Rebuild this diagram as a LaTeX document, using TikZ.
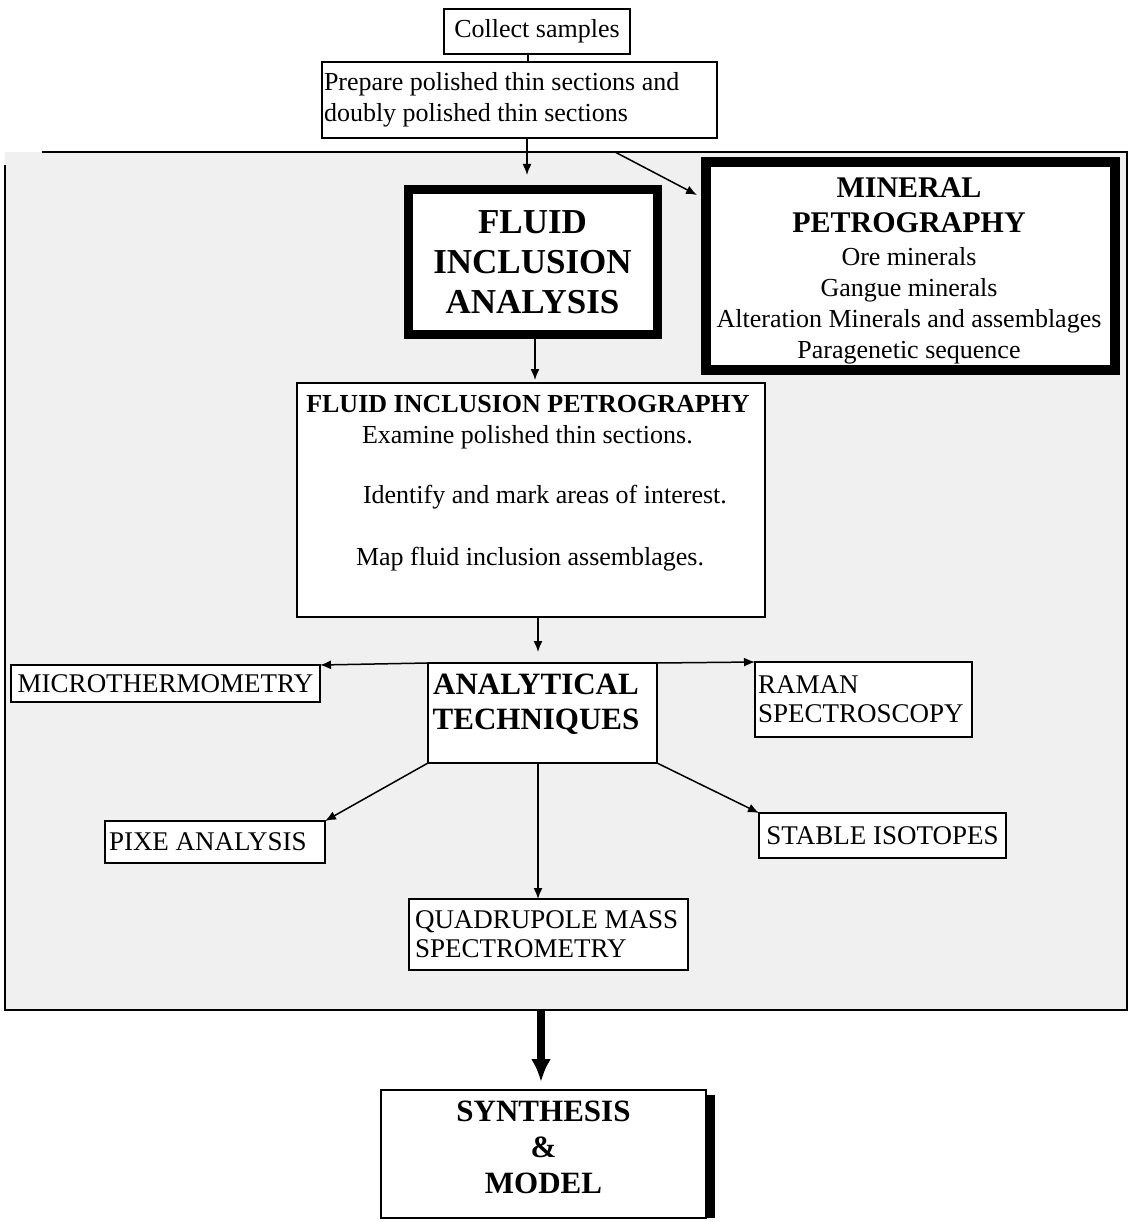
\documentclass[tikz,border=0pt]{standalone}
\usepackage{fontspec}
\setmainfont{Liberation Serif}
\usetikzlibrary{arrows.meta}
\newcommand\rgf{\fontsize{26}{31}\selectfont}
\newcommand\capf{\fontsize{27}{29}\selectfont}
\newcommand\bdf{\fontsize{26}{31}\selectfont\bfseries}
\newcommand\ttlf{\fontsize{30}{34}\selectfont\bfseries}
\begin{document}
\begin{tikzpicture}[x=1pt,y=-1pt,
  box/.style={draw, line width=2pt, fill=white, inner sep=0pt, outer sep=0pt, font=\rgf},
  thickbox/.style={draw, fill=white, inner sep=0pt, outer sep=0pt},
  txt/.style={inner sep=0pt, outer sep=0pt},
  arr/.style={-{Latex[length=11pt,width=9pt]}, line width=1.5pt},
  bigarr/.style={-{Latex[length=23pt,width=20pt]}, line width=8pt}]
\useasboundingbox (0,0) rectangle (1133,1222);
\fill[white] (0,0) rectangle (1133,1222);
% stippled frame
\fill[black!6] (5,152) rectangle (1127,1010);
\draw[line width=2pt] (42,152) -- (1127,152) -- (1127,1010) -- (5,1010) -- (5,165);

% boxes
\node[box, minimum width=186pt, minimum height=45pt] (collect) at (537,31.5) {Collect samples};
\node[box, minimum width=395pt, minimum height=76pt, text width=391pt, align=flush left] (prepare) at (519.5,100)
  {Prepare polished thin sections and\\doubly polished thin sections};
\node[thickbox, line width=9pt, minimum width=249pt, minimum height=144pt, align=center,
  font=\fontsize{35}{40}\selectfont\bfseries] (fluid) at (532.5,262) {FLUID\\INCLUSION\\ANALYSIS};
\node[thickbox, line width=10pt, minimum width=409pt, minimum height=208pt] (mineral) at (910.5,266) {};
\node[txt, align=center, font=\rgf, anchor=north] (minert) at (909,178)
  {{\ttlf MINERAL}\\[4pt]{\ttlf PETROGRAPHY}\\[2pt]Ore minerals\\Gangue minerals\\Alteration Minerals and assemblages\\Paragenetic sequence};
\node[box, minimum width=468pt, minimum height=234pt] (fip) at (531,500) {};
\node[txt, font=\bdf, anchor=base] (fipt) at (528,412) {FLUID INCLUSION PETROGRAPHY};
\node[txt, font=\rgf, anchor=base west] (fip1) at (362,443) {Examine polished thin sections.};
\node[txt, font=\rgf, anchor=base west] (fip2) at (363,503) {Identify and mark areas of interest.};
\node[txt, font=\rgf, anchor=base west] (fip3) at (356,565) {Map fluid inclusion assemblages.};

\node[box, font=\capf, minimum width=309pt, minimum height=37pt] (micro) at (165.5,683.5) {MICROTHERMOMETRY};
\node[box, minimum width=229pt, minimum height=100pt] (anal) at (542.5,713) {};
\node[txt, font=\fontsize{31}{35}\selectfont\bfseries, align=center, anchor=north] (analt) at (536,674) {ANALYTICAL\\TECHNIQUES};
\node[box, font=\capf, minimum width=217pt, minimum height=75pt, text width=211pt, align=flush left] (raman) at (863.5,699.5) {RAMAN\\SPECTROSCOPY};
\node[box, font=\capf, minimum width=220pt, minimum height=42pt, text width=212pt, align=flush left] (pixe) at (215,842) {PIXE ANALYSIS};
\node[box, font=\capf, minimum width=247pt, minimum height=45pt] (stable) at (882.5,835.5) {STABLE ISOTOPES};
\node[box, font=\capf, minimum width=279pt, minimum height=71pt, text width=267pt, align=flush left] (quad) at (548.5,934.5) {QUADRUPOLE MASS\\SPECTROMETRY};
\node[box, minimum width=325pt, minimum height=128pt, align=center, text depth=13pt,
  font=\fontsize{31}{36}\selectfont\bfseries] (synth) at (543.5,1154) {SYNTHESIS\\\&\\MODEL};
\draw[line width=9pt] ([xshift=4.5pt,yshift=-5pt]synth.north east) -- ([xshift=4.5pt]synth.south east);

% connectors
\draw[line width=1.5pt] ([xshift=-9pt]collect.south) -- ([xshift=-9pt]collect.south |- prepare.north);
\draw[arr, shorten >=15pt] ([xshift=7.5pt]prepare.south) -- ([xshift=7.5pt]prepare.south |- fluid.north);
\coordinate (d0) at (615,152);
\coordinate (d1) at ([xshift=-9pt,yshift=-33pt]mineral.north west);
\draw[arr] (d0) -- (d1);
\draw[arr, shorten <=4.5pt, shorten >=3pt] ([xshift=2.5pt]fluid.south) -- ([xshift=2.5pt]fluid.south |- fip.north);
\draw[arr, shorten >=11pt] ([xshift=7pt]fip.south) -- ([xshift=7pt]fip.south |- anal.north);
\draw[arr] (anal.north west) -- (micro.north east);
\draw[arr] (anal.north east) -- (raman.north west);
\draw[arr] (anal.south west) -- (pixe.north east);
\draw[arr] (anal.south east) -- (stable.north west);
\draw[arr] ([xshift=-4.5pt]anal.south) -- ([xshift=-4.5pt]anal.south |- quad.north);
\coordinate (f0) at (541,1011);
\draw[bigarr, shorten >=8pt] (f0) -- (f0 |- synth.north);
\end{tikzpicture}
\end{document}
